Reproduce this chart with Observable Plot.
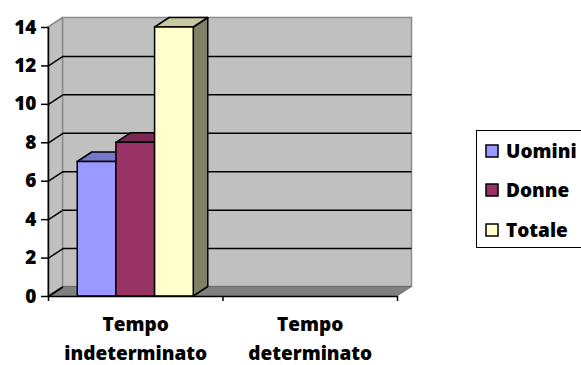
<!DOCTYPE html>
<html>
<head>
<meta charset="utf-8">
<script src="https://cdn.jsdelivr.net/npm/d3@7"></script>
<script src="https://cdn.jsdelivr.net/npm/@observablehq/plot@0.6"></script>
<style>
  html, body { margin: 0; padding: 0; background: #fff; overflow: hidden; }
  #wrap { position: relative; width: 581px; height: 365px; overflow: hidden; background: #fff; }
  #wrap > svg { display: block; }
  .legend-box {
    position: absolute; left: 476px; top: 130px; width: 130px; height: 116px;
    border: 1px solid #000; padding: 0 0 0 9px; background: #fff;
  }
  .lg-swatches { font: 800 19px "Open Sans", sans-serif; margin: 0; color: #000; }
  .lg-swatches .lg-swatch { height: 39.5px; padding: 0; display: flex; align-items: center; }
  .lg-swatches .lg-swatch > svg { margin-right: 8px; overflow: visible; }
  .lg-swatches .lg-swatch > svg rect { stroke: #000; stroke-width: 1.5px; }
  .lg-swatches .lg-swatch-label { overflow: visible; }
</style>
</head>
<body>
<div id="wrap"></div>
<script>
// Contratti per tipo di durata
const categories = ["Tempo indeterminato", "Tempo determinato"];
const series = ["Uomini", "Donne", "Totale"];
const uomini = [7, 0];
const donne = [8, 0];
const totale = [14, 0];
const yTicks = [0, 2, 4, 6, 8, 10, 12, 14];

// Face colours of the 3D columns: front, top, right side
const frontColors = ["#9999FF", "#993366", "#FFFFCC"];
const topColors = ["#7777C9", "#7A2952", "#C9C9A1"];
const sideColors = ["#5C5C99", "#5C1F3D", "#808066"];

const W = 581, H = 365;
const margin = {top: 27, right: 184, bottom: 69, left: 48};
const yMax = yTicks[yTicks.length - 1];
const nCat = categories.length;

// Perspective depth, expressed in data units from a pixel offset
const depthPx = {x: 14.5, y: 9.5};
const pxPerX = (W - margin.left - margin.right) / nCat;
const pxPerY = (H - margin.top - margin.bottom) / yMax;
const DX = depthPx.x / pxPerX;
const DY = depthPx.y / pxPerY;

// Column layout inside each category slot
const groupFrac = 0.665;
const barW = groupFrac / series.length;
const gap = (1 - groupFrac) / 2;

const valuesBySeries = [uomini, donne, totale];
const bars = [];
categories.forEach((c, i) => {
  series.forEach((s, j) => {
    const v = valuesBySeries[j][i];
    if (v > 0) {
      const x1 = i + gap + j * barW;
      bars.push({id: `${i}-${j}`, cat: c, series: s, j, v, x1, x2: x1 + barW});
    }
  });
});

const topFaces = (j) => bars.filter(b => b.j === j).flatMap(b => [
  {id: b.id, y: b.v, x1: b.x1, x2: b.x2},
  {id: b.id, y: b.v + DY, x1: b.x1 + DX, x2: b.x2 + DX}
]);
const sideFaces = (j) => bars.filter(b => b.j === j).flatMap(b => [
  {id: b.id, x: b.x2, y1: 0, y2: b.v},
  {id: b.id, x: b.x2 + DX, y1: DY, y2: b.v + DY}
]);

const wallLeft = [
  {x: 0, y1: 0, y2: yMax},
  {x: DX, y1: DY, y2: yMax + DY}
];
const floor = [
  {y: 0, x1: 0, x2: nCat},
  {y: DY, x1: DX, x2: nCat + DX}
];

const lineStyle = {stroke: "#000", strokeWidth: 1.5};

const chart = Plot.plot({
  width: W,
  height: H,
  marginTop: margin.top,
  marginRight: margin.right,
  marginBottom: margin.bottom,
  marginLeft: margin.left,
  style: {background: "#fff", fontFamily: "'Open Sans', sans-serif", fontWeight: "800", fontSize: "19px", color: "#000"},
  x: {domain: [0, nCat], axis: null},
  y: {domain: [0, yMax], axis: null},
  color: {domain: series, range: frontColors},
  marks: [
    // back wall
    Plot.rect([0], {x1: () => DX, x2: () => nCat + DX, y1: () => DY, y2: () => yMax + DY,
      fill: "#C0C0C0", stroke: "#8C8C8C", strokeWidth: 1.5}),
    // left side wall
    Plot.areaY(wallLeft, {x: "x", y1: "y1", y2: "y2", fill: "#C0C0C0", stroke: "#8C8C8C", strokeWidth: 1.5}),
    // floor
    Plot.areaX(floor, {y: "y", x1: "x1", x2: "x2", fill: "#808080", stroke: "#6E6E6E", strokeWidth: 1}),
    // gridlines on the back wall
    Plot.ruleY(yTicks.filter(t => t > 0 && t < yMax), {y: d => d + DY, x1: () => DX, x2: () => nCat + DX, ...lineStyle}),
    // gridlines on the side wall
    Plot.link(yTicks.filter(t => t < yMax), {x1: () => 0, y1: d => d, x2: () => DX, y2: d => d + DY, ...lineStyle}),
    // side and top faces, then fronts
    ...series.map((s, j) => Plot.areaY(sideFaces(j), {x: "x", y1: "y1", y2: "y2", z: "id", fill: sideColors[j], ...lineStyle})),
    ...series.map((s, j) => Plot.areaX(topFaces(j), {y: "y", x1: "x1", x2: "x2", z: "id", fill: topColors[j], ...lineStyle})),
    Plot.rect(bars, {x1: "x1", x2: "x2", y1: () => 0, y2: "v", fill: "series", ...lineStyle}),
    // axes
    Plot.ruleX([0], {y1: () => 0, y2: () => yMax, ...lineStyle}),
    Plot.ruleY([0], {x1: () => 0, x2: () => nCat, ...lineStyle}),
    Plot.axisY({ticks: yTicks, tickSize: 7, tickPadding: 5, tickFormat: d => String(d), label: null,
      fontSize: 19, fontWeight: "800", strokeWidth: 1.5}),
    Plot.axisX({ticks: d3.range(nCat + 1), tickSize: 5, tickFormat: () => "", label: null, strokeWidth: 1.5}),
    // category labels on two lines
    Plot.text(categories, {x: (d, i) => i + 0.5, frameAnchor: "bottom", dy: 14.5, lineAnchor: "top",
      text: d => d.replace(" ", "\n"), lineHeight: 1.5, fontSize: 19, fontWeight: "800", fill: "#000"})
  ]
});

const wrap = document.getElementById("wrap");
wrap.appendChild(chart);

const box = document.createElement("div");
box.className = "legend-box";
box.appendChild(chart.legend("color", {legend: "swatches", columns: 1, swatchSize: 12, className: "lg"}));
wrap.appendChild(box);
</script>
</body>
</html>
